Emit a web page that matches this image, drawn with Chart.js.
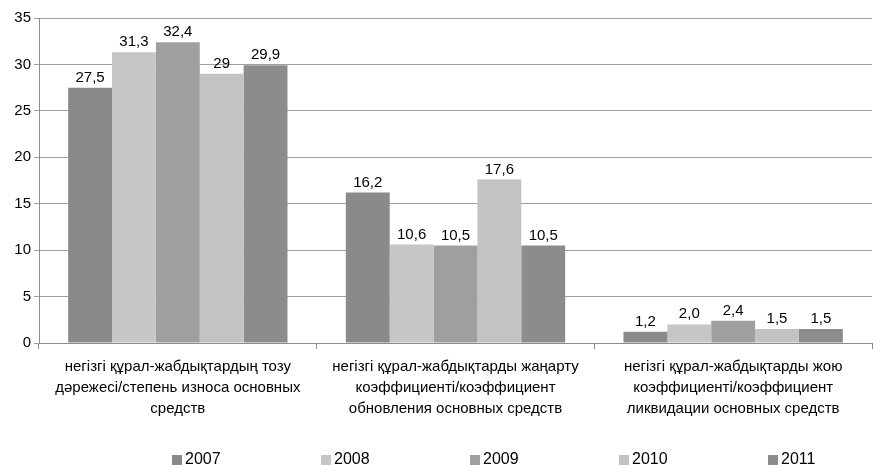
<!DOCTYPE html>
<html>
<head>
<meta charset="utf-8">
<script src="https://cdn.jsdelivr.net/npm/chart.js@4.4.1/dist/chart.umd.min.js"></script>
<style>
  html, body { margin: 0; padding: 0; background: #fff; }
  #wrap { width: 876px; height: 465px; }
</style>
</head>
<body>
<div id="wrap"><canvas id="chart"></canvas></div>
<script>
// categories (x axis labels, multi-line)
const categories = [
  ['негізгі құрал-жабдықтардың тозу', 'дәрежесі/степень износа основных', 'средств'],
  ['негізгі құрал-жабдықтарды жаңарту', 'коэффициенті/коэффициент', 'обновления основных средств'],
  ['негізгі құрал-жабдықтарды жою', 'коэффициенті/коэффициент', 'ликвидации основных средств']
];

const years = ['2007', '2008', '2009', '2010', '2011'];

// values per year across the three categories
const v2007 = [27.5, 16.2, 1.2];
const v2008 = [31.3, 10.6, 2.0];
const v2009 = [32.4, 10.5, 2.4];
const v2010 = [29, 17.6, 1.5];
const v2011 = [29.9, 10.5, 1.5];

// value labels as printed above the bars
const l2007 = ['27,5', '16,2', '1,2'];
const l2008 = ['31,3', '10,6', '2,0'];
const l2009 = ['32,4', '10,5', '2,4'];
const l2010 = ['29', '17,6', '1,5'];
const l2011 = ['29,9', '10,5', '1,5'];

const yTicks = [0, 5, 10, 15, 20, 25, 30, 35];

const colors = ['#8a8a8a', '#c6c6c6', '#9f9f9f', '#c3c3c3', '#8c8c8c'];
const values = [v2007, v2008, v2009, v2010, v2011];
const labelsTxt = [l2007, l2008, l2009, l2010, l2011];

const datasets = years.map((y, i) => ({
  label: y,
  data: values[i],
  valueLabels: labelsTxt[i],
  backgroundColor: colors[i],
  borderWidth: 0,
  categoryPercentage: 0.79,
  barPercentage: 1.0
}));

// value labels above bars
const barLabels = {
  id: 'barLabels',
  afterDatasetsDraw(chart) {
    const ctx = chart.ctx;
    ctx.save();
    ctx.font = '15px "Liberation Sans", Arial, sans-serif';
    ctx.fillStyle = '#000';
    ctx.textAlign = 'center';
    ctx.textBaseline = 'alphabetic';
    chart.data.datasets.forEach((ds, i) => {
      chart.getDatasetMeta(i).data.forEach((bar, j) => {
        ctx.fillText(ds.valueLabels[j], bar.x, bar.y - 6);
      });
    });
    ctx.restore();
  }
};

// legend drawn in one row with wide spacing
const wideLegend = {
  id: 'wideLegend',
  afterDraw(chart) {
    const ctx = chart.ctx;
    const step = 149;
    const startX = 172;
    const y = 460;
    ctx.save();
    ctx.font = '16px "Liberation Sans", Arial, sans-serif';
    ctx.textBaseline = 'middle';
    ctx.textAlign = 'left';
    chart.data.datasets.forEach((ds, i) => {
      const x = startX + i * step;
      ctx.fillStyle = ds.backgroundColor;
      ctx.fillRect(x, y - 5, 10, 10);
      ctx.fillStyle = '#000';
      ctx.fillText(ds.label, x + 13, y);
    });
    ctx.restore();
  }
};

new Chart(document.getElementById('chart'), {
  type: 'bar',
  data: { labels: categories, datasets: datasets },
  options: {
    responsive: true,
    maintainAspectRatio: false,
    animation: false,
    layout: { padding: { top: 18, right: 4, bottom: 42, left: 0 } },
    plugins: {
      legend: { display: false },
      tooltip: { enabled: false }
    },
    scales: {
      x: {
        offset: true,
        afterFit(axis) { axis.height = 80; },
        grid: {
          display: true,
          drawOnChartArea: false,
          offset: true,
          color: '#8c8c8c',
          tickLength: 6
        },
        border: { color: '#8c8c8c' },
        ticks: {
          color: '#000',
          maxRotation: 0,
          autoSkip: false,
          padding: 8,
          font: { family: '"Liberation Sans", Arial', size: 15, lineHeight: 1.37 }
        }
      },
      y: {
        min: 0,
        max: 35,
        afterFit(axis) { axis.width = 39; },
        afterBuildTicks(axis) { axis.ticks = yTicks.map(v => ({ value: v })); },
        grid: { color: '#a0a0a0', tickLength: 5 },
        border: { color: '#8c8c8c' },
        ticks: {
          color: '#000',
          padding: 3,
          font: { family: '"Liberation Sans", Arial', size: 15 }
        }
      }
    }
  },
  plugins: [barLabels, wideLegend]
});
</script>
</body>
</html>
